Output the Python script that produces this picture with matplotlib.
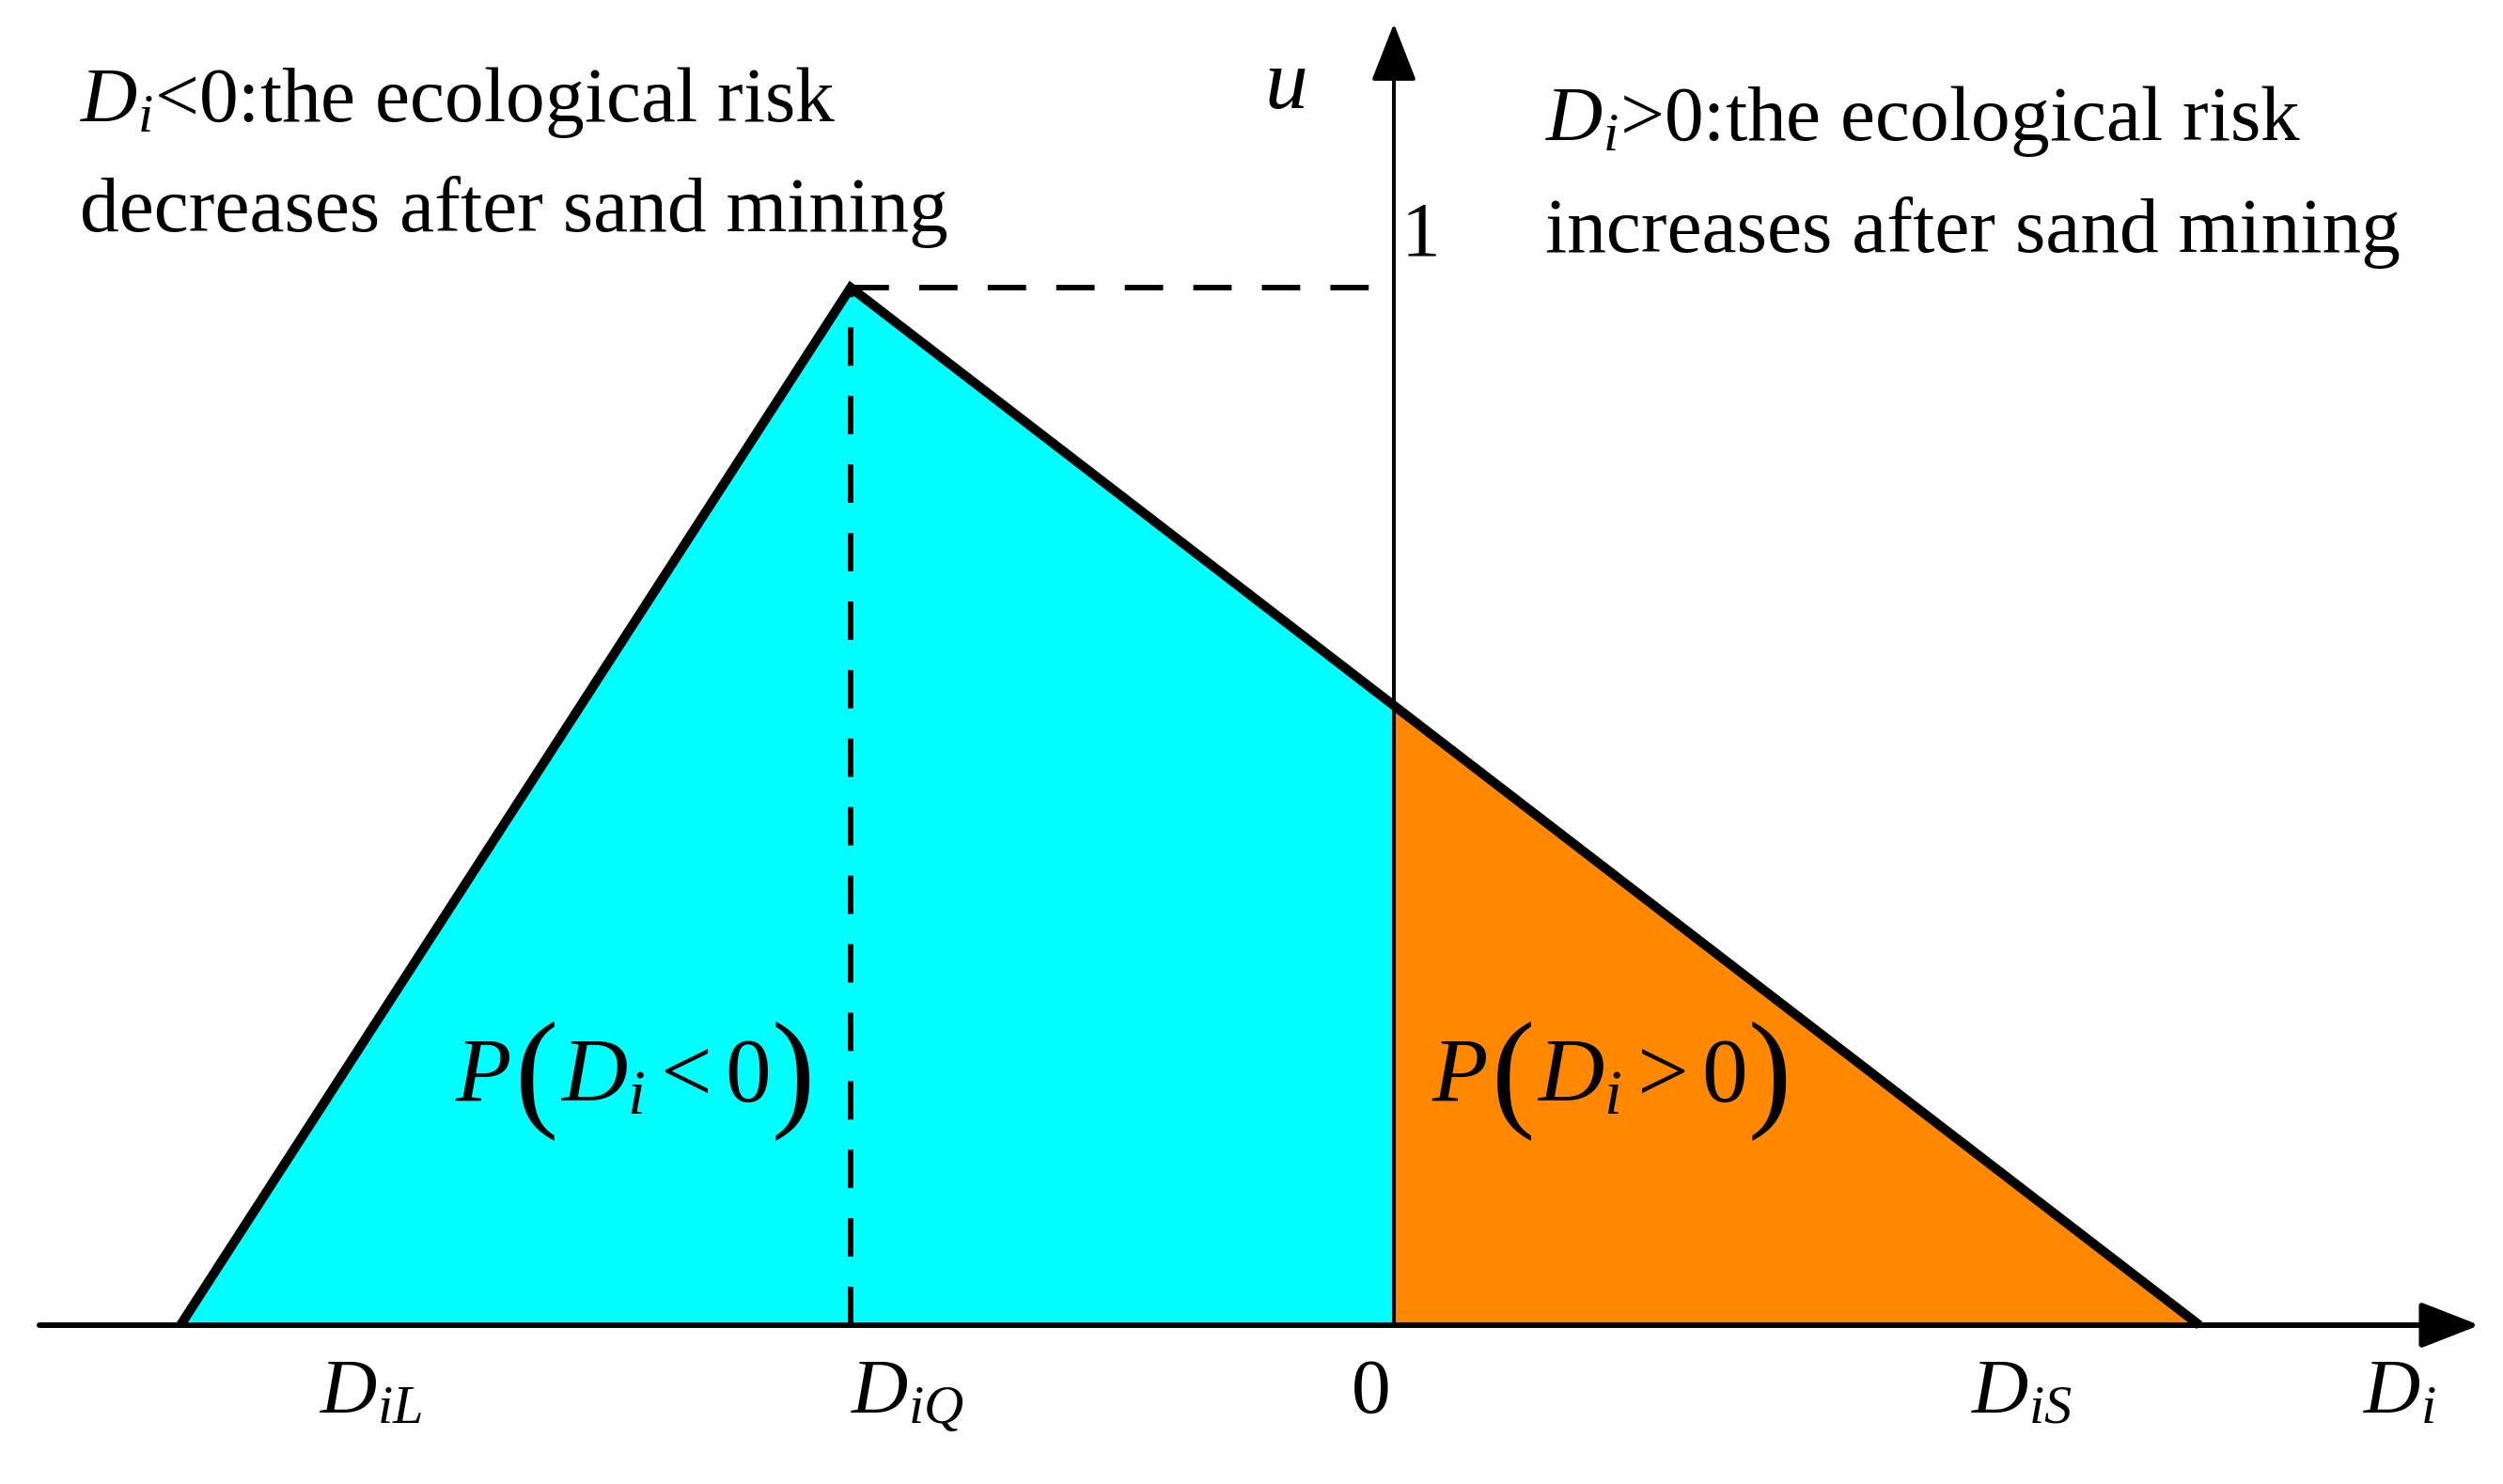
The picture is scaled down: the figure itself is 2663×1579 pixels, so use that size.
import numpy as np
import matplotlib.pyplot as plt
from matplotlib.patches import Rectangle

plt.rcParams['font.family'] = 'Liberation Serif'
plt.rcParams['mathtext.fontset'] = 'custom'
plt.rcParams['mathtext.rm'] = 'Liberation Serif'
plt.rcParams['mathtext.it'] = 'Liberation Serif:italic'

# triangular membership of D_i (schematic units), peak at D_iQ
d_vals = [-1.291, -0.578, 0.857]   # D_iL, D_iQ, D_iS
u_vals = [0.0, 1.0, 0.0]
d_labels = [r'$D_{iL}$', r'$D_{iQ}$', r'$D_{iS}$']
label_px = [(340, 1503), (905, 1503), (2097, 1503)]

W, H = 2663, 1579
fig = plt.figure(figsize=(W / 100, H / 100), dpi=100)
ax = fig.add_axes([0, 0, 1, 1])
ax.set_xlim(-1.483, 1.180)
ax.set_ylim(-169 / 1104, 1410 / 1104)
ax.axis('off')

def px(x, y):
    return x / W, 1 - y / H

# shaded areas: cyan left of 0, orange right of 0
ax.fill(d_vals, u_vals, color='#00FFFF', lw=0, zorder=1)
orange = ax.fill(d_vals, u_vals, color='#FF8800', lw=0, zorder=2)[0]
orange.set_clip_path(Rectangle((0, -1), 5, 5, transform=ax.transData))

ax.plot(d_vals, u_vals, color='k', lw=7.2, solid_joinstyle='miter',
        solid_capstyle='butt', zorder=5)

# dashed guides from the peak
dash = dict(color='k', lw=4.2, dashes=(7.0, 5.5), zorder=4)
ax.plot([d_vals[1], d_vals[1]], [0, u_vals[1]], **dash)
ax.plot([d_vals[1], 0], [u_vals[1], u_vals[1]], **dash)

# axes with arrows
arr = dict(arrowstyle='-|>,head_length=0.64,head_width=0.25', color='k',
           shrinkA=0, shrinkB=0, mutation_scale=60)
ax.annotate('', xy=(1.155, 0), xytext=(-1.441, 0),
            arrowprops=dict(lw=4.3, **arr), zorder=6)
ax.annotate('', xy=(0, 1.2545), xytext=(0, 0),
            arrowprops=dict(lw=2.9, **arr), zorder=6)

# labels on the D_i axis
for lab, (x, y) in zip(d_labels, label_px):
    fig.text(*px(x, y), lab, fontsize=60, ha='left', va='baseline')
fig.text(*px(1459, 1503), '0', fontsize=60, ha='center', va='baseline')
fig.text(*px(2514, 1503), r'$D_i$', fontsize=60, ha='left', va='baseline')
fig.text(*px(1367, 93), r'$u$', fontsize=66, ha='center', va='center')
fig.text(*px(1491, 272), '1', fontsize=60, ha='left', va='baseline')

# probability regions, with tall brackets
renderer = fig.canvas.get_renderer()

def prob_label(x0, yb, inner):
    parts = [(r'$P$', 70, 0), ('(', 100, 4), (inner, 70, 2), (')', 100, 2)]
    x = x0
    for s, fs, gap in parts:
        x += gap
        y = yb + (12 if fs > 70 else 0)
        t = fig.text(*px(x, y), s, fontsize=fs, ha='left', va='baseline')
        bb = t.get_window_extent(renderer)
        x += bb.width

prob_label(484, 1172, r'$D_i<0$')
prob_label(1523, 1172, r'$D_i>0$')

# notes
fig.text(*px(85, 129), r'$D_i$<0:the ecological risk', fontsize=60,
         ha='left', va='baseline')
fig.text(*px(85, 246), 'decreases after sand mining', fontsize=60,
         ha='left', va='baseline')
fig.text(*px(1644, 149), r'$D_i$>0:the ecological risk', fontsize=60,
         ha='left', va='baseline')
fig.text(*px(1644, 268), 'increases after sand mining', fontsize=60,
         ha='left', va='baseline')

fig.savefig('out.png', dpi=100)
